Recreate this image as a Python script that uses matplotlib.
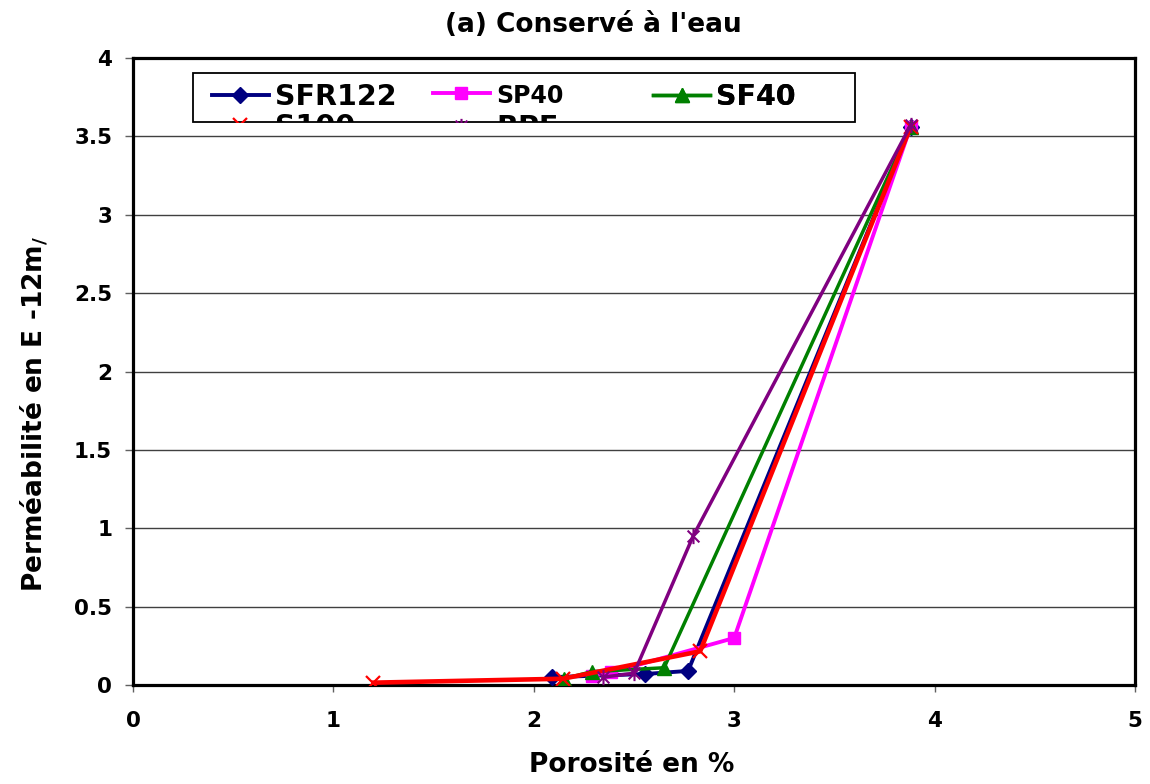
import numpy as np
import matplotlib
matplotlib.use("Agg")
import matplotlib.pyplot as plt
from matplotlib.patches import Rectangle
from matplotlib.path import Path

# data
sfr122_x = [2.09, 2.555, 2.77, 3.88]
sfr122_y = [0.05, 0.07, 0.09, 3.56]
sp40_x = [2.29, 2.385, 3.0, 3.88]
sp40_y = [0.06, 0.08, 0.30, 3.56]
sf40_x = [2.15, 2.29, 2.65, 3.88]
sf40_y = [0.04, 0.085, 0.11, 3.56]
s100_x = [1.2, 2.145, 2.83, 3.88]
s100_y = [0.015, 0.04, 0.215, 3.56]
rpf_x = [2.345, 2.50, 2.795, 3.88]
rpf_y = [0.05, 0.075, 0.95, 3.57]

x_ticks = [0, 1, 2, 3, 4, 5]
y_ticks = [0, 0.5, 1, 1.5, 2, 2.5, 3, 3.5, 4]

plt.rcParams['font.family'] = ['DejaVu Sans']
plt.rcParams['font.weight'] = 'bold'
plt.rcParams['mathtext.default'] = 'regular'

# excel style star marker: an x with a vertical bar
star = Path([(-1, -1), (1, 1), (-1, 1), (1, -1), (0, -1.3), (0, 1.3)],
            [Path.MOVETO, Path.LINETO, Path.MOVETO, Path.LINETO, Path.MOVETO, Path.LINETO])

fig = plt.figure(figsize=(11.5, 7.84), dpi=100)
ax = fig.add_axes([133/1150, 1-685/784, 1002/1150, 627/784])

h1, = ax.plot(sfr122_x, sfr122_y, color='#000080', lw=2.8, marker='D', ms=8, zorder=3, label='SFR122')
h2, = ax.plot(sp40_x, sp40_y, color='#FF00FF', lw=2.8, marker='s', ms=8, zorder=3.1, label='SP40')
h3, = ax.plot(sf40_x, sf40_y, color='#008000', lw=2.5, marker='^', ms=10, zorder=3.2, label='SF40')
h4, = ax.plot(s100_x, s100_y, color='#FF0000', lw=3.3, marker='x', ms=10, mew=1.6, zorder=3.3, label='S100')
h5, = ax.plot(rpf_x, rpf_y, color='#800080', lw=2.5, marker=star, ms=11, mew=1.5, zorder=3.4, label='RPF')

ax.set_xlim(0, 5)
ax.set_ylim(0, 4)
ax.set_xticks(x_ticks)
ax.set_yticks(y_ticks)
ax.set_xticklabels([str(v) for v in x_ticks])
ax.set_yticklabels(['0', '0.5', '1', '1.5', '2', '2.5', '3', '3.5', '4'])
ax.yaxis.grid(True, color='#404040', lw=1.0)
ax.set_axisbelow(True)
for s in ax.spines.values():
    s.set_linewidth(2.3)
ax.tick_params(axis='y', direction='out', length=6, width=1, color='#606060', labelsize=15.5, pad=9)
ax.tick_params(axis='x', direction='out', length=5, width=1, color='#606060', labelsize=15.5, pad=14)

ax.set_xlabel('Porosité en %', fontsize=19, fontweight='bold')
ax.xaxis.set_label_coords(0.498, -0.107)
ax.set_ylabel('Perméabilité en E -12m$_{/}$', fontsize=19, fontweight='bold')
ax.yaxis.set_label_coords(-0.082, 0.432)

fig.text(593/1150, 1-32/784, "(a) Conservé à l'eau", fontsize=19, fontweight='bold',
         ha='center', va='baseline')

# legend frame, its second row is cut off like in the original
box = Rectangle((0.06, 0.898), 0.661, 0.078, transform=ax.transAxes,
                fc='white', ec='black', lw=1.3, zorder=4.5)
ax.add_patch(box)

cols = [([h1, h4], 0.0788, 0.05), ([h2, h5], 0.2994, 0.2), ([h3], 0.519, 0.0)]
for handles, x0, sp in cols:
    leg = ax.legend(handles=handles, loc='upper left', bbox_to_anchor=(x0, 0.960),
                    frameon=False, fontsize=20.5, borderpad=0, borderaxespad=0,
                    handlelength=2.0, handletextpad=0.22, labelspacing=sp,
                    prop={'weight': 'bold', 'size': 20.5})
    for t in leg.get_texts():
        if t.get_text() == 'SP40':
            t.set_fontsize(17)
    for a in leg.findobj():
        if a is not leg:
            a.set_clip_path(box)
    ax.add_artist(leg)

fig.savefig('out.png', dpi=100)
